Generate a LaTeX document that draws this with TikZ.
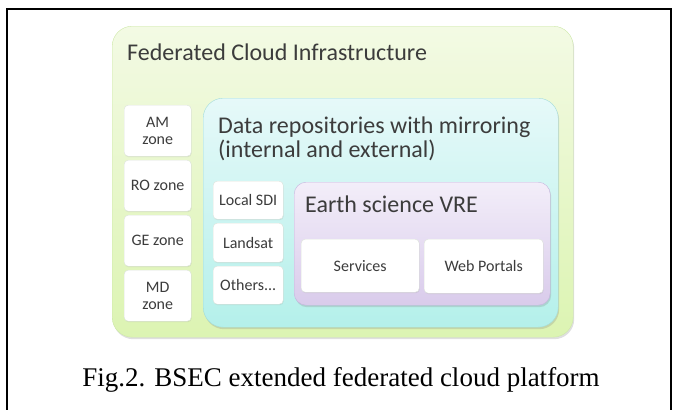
\documentclass[tikz,border=0pt]{standalone}
\usepackage{fontspec}
\setmainfont{Liberation Serif}
\newfontfamily\calib{Carlito}
\usepackage{tikz}
\usetikzlibrary{shapes,shadows}

\definecolor{fedtop}{HTML}{F3FAE4}
\definecolor{fedbot}{HTML}{DCF4B2}
\definecolor{fedline}{HTML}{CDE8A8}
\definecolor{repotop}{HTML}{E6F9F9}
\definecolor{repobot}{HTML}{B4F0EA}
\definecolor{repoline}{HTML}{A4DCDA}
\definecolor{vretop}{HTML}{F3EEF9}
\definecolor{vrebot}{HTML}{D9CBEB}
\definecolor{vreline}{HTML}{C6B4DE}
\definecolor{boxline}{HTML}{DDE4DC}
\definecolor{labeltext}{HTML}{3C3C3C}

\begin{document}
\begin{tikzpicture}[x=1pt,y=-1pt]
\useasboundingbox (0,0) rectangle (673,410);
\tikzstyle{panel}=[rectangle, draw, anchor=north west, inner sep=0pt,
    drop shadow={shadow xshift=1pt, shadow yshift=-2pt, opacity=0.25}]
\tikzstyle{smallbox}=[rectangle, draw=boxline, fill=white, rounded corners=4pt,
    anchor=north west, align=center, inner sep=0pt, text=labeltext,
    font=\calib\fontsize{16}{17}\selectfont,
    drop shadow={shadow xshift=0.5pt, shadow yshift=-1pt, opacity=0.15}]
\tikzstyle{heading}=[anchor=base west, inner sep=0pt, align=left, text=labeltext,
    font=\calib\fontsize{24}{24}\selectfont]

% figure frame
\draw[line width=1.5pt] (7,410) -- (7,9) -- (671,9) -- (671,410);

% federated cloud
\node[panel, draw=fedline, top color=fedtop, bottom color=fedbot, rounded corners=20pt,
    minimum width=461pt, minimum height=311pt] (fed) at (112,26) {};
\node[heading] (fedtitle) at (127,60) {Federated Cloud Infrastructure};

\node[smallbox, minimum width=67pt, minimum height=51pt] (am) at (124,105) {AM\\zone};
\node[smallbox, minimum width=67pt, minimum height=51pt] (ro) at (124,160) {RO zone};
\node[smallbox, minimum width=67pt, minimum height=51pt] (ge) at (124,215) {GE zone};
\node[smallbox, minimum width=67pt, minimum height=51pt] (md) at (124,270) {MD\\zone};

% data repositories
\node[panel, draw=repoline, top color=repotop, bottom color=repobot, rounded corners=20pt,
    minimum width=355pt, minimum height=229pt] (repo) at (203,98) {};
\node[heading] (repotitle) at (218,157) {Data repositories with mirroring\\(internal and external)};

\node[smallbox, minimum width=70pt, minimum height=38pt] (sdi) at (213,181) {Local SDI};
\node[smallbox, minimum width=70pt, minimum height=39pt] (landsat) at (213,223) {Landsat};
\node[smallbox, minimum width=70pt, minimum height=38pt] (others) at (213,266) {Others...};

% virtual research environment
\node[panel, draw=vreline, top color=vretop, bottom color=vrebot, rounded corners=12pt,
    minimum width=256pt, minimum height=123pt] (vre) at (294,182) {};
\node[heading] (vretitle) at (305,212) {Earth science VRE};

\node[smallbox, minimum width=118pt, minimum height=53pt] (services) at (301,239) {Services};
\node[smallbox, minimum width=119pt, minimum height=54pt] (portals) at (424,239) {Web Portals};

\node[anchor=base, inner sep=0pt, font=\fontsize{27}{30}\selectfont] (caption) at (341,386)
    {Fig.2. BSEC extended federated cloud platform};
\end{tikzpicture}
\end{document}
